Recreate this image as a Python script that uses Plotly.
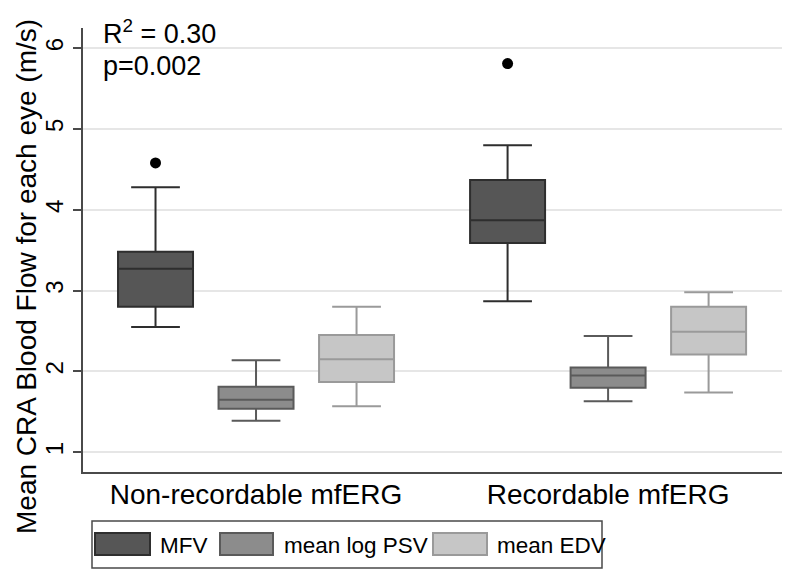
import plotly.graph_objects as go

# ---- data ----
categories = ["Non-recordable mfERG", "Recordable mfERG"]
series = ["MFV", "mean log PSV", "mean EDV"]

mfv_lower = [2.55, 2.87]
mfv_q1 = [2.80, 3.59]
mfv_median = [3.27, 3.87]
mfv_q3 = [3.48, 4.37]
mfv_upper = [4.28, 4.80]
mfv_outliers = [4.58, 5.81]

psv_lower = [1.39, 1.63]
psv_q1 = [1.54, 1.80]
psv_median = [1.65, 1.95]
psv_q3 = [1.81, 2.05]
psv_upper = [2.14, 2.44]

edv_lower = [1.57, 1.74]
edv_q1 = [1.87, 2.21]
edv_median = [2.15, 2.49]
edv_q3 = [2.45, 2.80]
edv_upper = [2.80, 2.98]

y_ticks = [1, 2, 3, 4, 5, 6]
y_title = "Mean CRA Blood Flow for each eye (m/s)"

# ---- style ----
FONT = "Liberation Sans, Arial, Helvetica, sans-serif"
fills = ["#565656", "#8c8c8c", "#c6c6c6"]
lines = ["#2e2e2e", "#5a5a5a", "#9a9a9a"]
offsets = [-0.2855, 0.0, 0.2855]
box_w = 0.213

stats = [
    (mfv_lower, mfv_q1, mfv_median, mfv_q3, mfv_upper),
    (psv_lower, psv_q1, psv_median, psv_q3, psv_upper),
    (edv_lower, edv_q1, edv_median, edv_q3, edv_upper),
]

fig = go.Figure()
for i, (name, st) in enumerate(zip(series, stats)):
    lo, q1, med, q3, up = st
    xs = [c + offsets[i] for c in range(len(categories))]
    fig.add_trace(go.Box(
        name=name, x=xs, lowerfence=lo, q1=q1, median=med, q3=q3, upperfence=up,
        width=box_w, whiskerwidth=0.65, boxpoints=False,
        fillcolor=fills[i], line=dict(color=lines[i], width=2),
        showlegend=False, hoverinfo="skip",
    ))

fig.add_trace(go.Scatter(
    x=[c + offsets[0] for c in range(len(categories))], y=mfv_outliers,
    mode="markers", marker=dict(color="black", size=11),
    showlegend=False, hoverinfo="skip",
))

# ---- page geometry (page body has an 8px margin) ----
PAGE = 8
W, H = 699.0, 444.0          # plot area size
X0, Y0 = 83.0, 472.0         # plot area left / bottom in screen pixels
def px(x):
    return (x - X0) / W
def py(y):
    return (Y0 - y) / H

shapes = [dict(type="rect", xref="paper", yref="paper",
               x0=px(92), x1=px(602), y0=py(568), y1=py(521),
               line=dict(color="#4a4a4a", width=1.5), fillcolor="white", layer="below")]
sw = [(95, 150), (220, 273), (433, 487)]
tx = [158, 282, 495]
annotations = []
for i, name in enumerate(series):
    shapes.append(dict(type="rect", xref="paper", yref="paper",
                       x0=px(sw[i][0]), x1=px(sw[i][1]), y0=py(555), y1=py(533),
                       line=dict(color=lines[i], width=2), fillcolor=fills[i]))
    annotations.append(dict(xref="paper", yref="paper", x=px(tx[i]), y=py(545),
                            text=name, showarrow=False, xanchor="left", yanchor="middle",
                            font=dict(family=FONT, size=22.5, color="black")))

annotations.append(dict(xref="paper", yref="paper", x=px(101), y=py(32),
                        text="R<sup>2</sup> = 0.30", showarrow=False, xanchor="left",
                        yanchor="middle", font=dict(family=FONT, size=27, color="black")))
annotations.append(dict(xref="paper", yref="paper", x=px(101), y=py(66),
                        text="p=0.002", showarrow=False, xanchor="left",
                        yanchor="middle", font=dict(family=FONT, size=27, color="black")))
annotations.append(dict(xref="paper", yref="paper", x=px(26), y=py(277),
                        text=y_title, textangle=-90, showarrow=False,
                        xanchor="center", yanchor="middle",
                        font=dict(family=FONT, size=28, color="black")))

fig.update_layout(
    width=795 - PAGE, height=580 - PAGE,
    margin=dict(l=83 - PAGE, r=13, t=28 - PAGE, b=108),
    paper_bgcolor="white", plot_bgcolor="white",
    boxmode="overlay",
    shapes=shapes, annotations=annotations,
    font=dict(family=FONT, color="black"),
)
fig.update_xaxes(
    range=[-0.4915, 1.494], tickvals=list(range(len(categories))), ticktext=categories,
    showline=True, linecolor="#4a4a4a", linewidth=2, showgrid=False, zeroline=False,
    ticks="", tickfont=dict(family=FONT, size=28, color="black"), automargin=False,
    ticklabelstandoff=-4,
)
fig.update_yaxes(
    range=[0.756, 6.25], tickvals=y_ticks, tickangle=-90,
    showline=True, linecolor="#4a4a4a", linewidth=2,
    ticks="outside", ticklen=8, tickwidth=1.5, tickcolor="#4a4a4a",
    showgrid=True, gridcolor="#e6e6e6", gridwidth=1.5, zeroline=False,
    tickfont=dict(family=FONT, size=24, color="black"), automargin=False,
)

fig.write_html("out.html")
